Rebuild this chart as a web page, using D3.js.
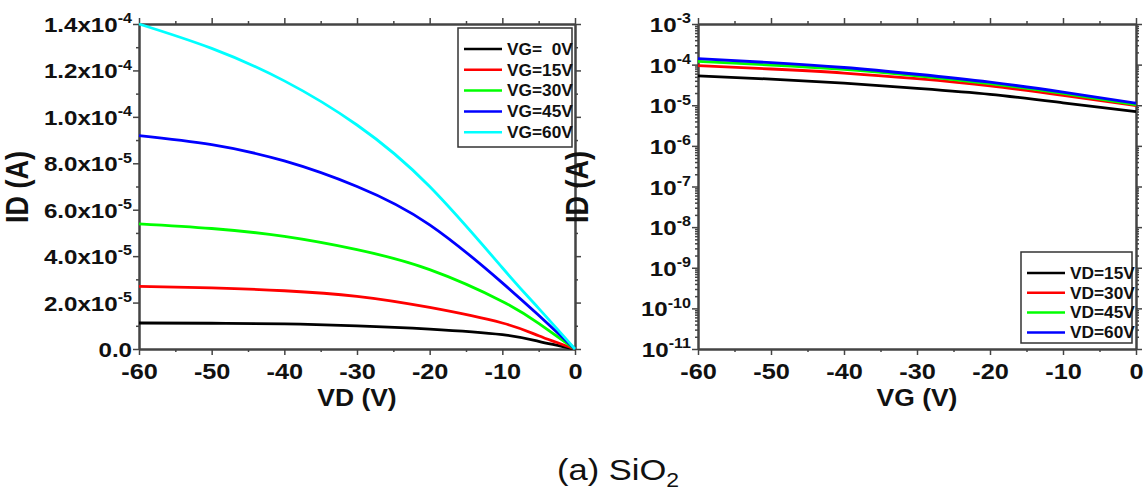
<!DOCTYPE html>
<html lang="en">
<head>
<meta charset="utf-8">
<title>SiO2 transistor curves</title>
<script type="text/javascript" src="https://d3js.org/d3.v7.min.js"></script>
<style>
body { margin: 0; background: #fff; }
text { font-family: "Liberation Sans", Arial, sans-serif; fill: #111; }
.lbl { font-weight: bold; }
.axis path, .axis line { stroke: #444; }
.axis path { stroke-width: 2; }
.axis line { stroke-width: 1.5; }
.curve { fill: none; stroke-width: 2.8; }
</style>
</head>
<body>
<div id="chart"></div>
<script type="text/javascript">

// output curves: ID vs VD for each VG
var vdValues = [-60, -50, -40, -30, -20, -10, -5, 0];
var idVG0  = [1.12e-5, 1.11e-5, 1.08e-5, 1.00e-5, 0.86e-5, 0.62e-5, 0.33e-5, 0];
var idVG15 = [2.70e-5, 2.63e-5, 2.51e-5, 2.27e-5, 1.79e-5, 1.12e-5, 0.57e-5, 0];
var idVG30 = [5.39e-5, 5.19e-5, 4.85e-5, 4.28e-5, 3.42e-5, 2.05e-5, 1.10e-5, 0];
var idVG45 = [9.19e-5, 8.80e-5, 8.10e-5, 7.00e-5, 5.35e-5, 2.85e-5, 1.45e-5, 0];
var idVG60 = [14.0e-5, 12.95e-5, 11.55e-5, 9.65e-5, 7.0e-5, 3.5e-5, 1.75e-5, 0];
var outNames = ["VG=  0V", "VG=15V", "VG=30V", "VG=45V", "VG=60V"];

// transfer curves: ID vs VG for each VD
var vgValues = [-60, -50, -40, -30, -20, -10, 0];
var idVD15 = [5.3e-5, 4.4e-5, 3.5e-5, 2.6e-5, 1.85e-5, 1.15e-5, 7.0e-6];
var idVD30 = [9.5e-5, 7.8e-5, 6.2e-5, 4.5e-5, 3.0e-5, 1.75e-5, 9.8e-6];
var idVD45 = [1.2e-4, 9.8e-5, 7.6e-5, 5.3e-5, 3.4e-5, 1.95e-5, 1.03e-5];
var idVD60 = [1.4e-4, 1.12e-4, 8.5e-5, 5.8e-5, 3.7e-5, 2.1e-5, 1.12e-5];
var trNames = ["VD=15V", "VD=30V", "VD=45V", "VD=60V"];

var colors = ["#000000", "#ff0000", "#00ff00", "#0000ff", "#00ffff"];

var xMajor = [-60, -50, -40, -30, -20, -10, 0];
var xMinor = [-55, -45, -35, -25, -15, -5];
var yLinMajor = [0, 2e-5, 4e-5, 6e-5, 8e-5, 1e-4, 1.2e-4, 1.4e-4];
var yLinMinor = [1e-5, 3e-5, 5e-5, 7e-5, 9e-5, 1.1e-4, 1.3e-4];
var yLogMajor = [1e-11, 1e-10, 1e-9, 1e-8, 1e-7, 1e-6, 1e-5, 1e-4, 1e-3];

var stretch = 1.15;   // picture is a bit wide, text looks stretched

var width = 1148, height = 493;
var plotTop = 24, plotBottom = 349;

var svg = d3.select("#chart").append("svg")
    .attr("width", width)
    .attr("height", height);

var xL = d3.scaleLinear().domain([-60, 0]).range([139, 575]);
var yL = d3.scaleLinear().domain([0, 1.4e-4]).range([plotBottom, plotTop]);
var xR = d3.scaleLinear().domain([-60, 0]).range([698, 1136]);
var yR = d3.scaleLog().domain([1e-11, 1e-3]).range([plotBottom, plotTop]);

var yLogMinor = [];
yLogMajor.slice(0, -1).forEach(function(d) {
    for (var k = 2; k < 10; k++) yLogMinor.push(d * k);
});

function sup(sel, base, exp, size, supSize) {
    sel.text(null);
    sel.append("tspan").text(base);
    sel.append("tspan").attr("dy", -size * 0.42).style("font-size", supSize + "px").text(exp);
}

function linLabel(d) {
    if (d === 0) return ["0.0", null];
    var e = Math.floor(Math.log10(d) + 1e-9);
    return [(d / Math.pow(10, e)).toFixed(1) + "x10", String(e)];
}

function frame(xs, ys, yMinor, yLabel) {
    var g = svg.append("g");
    var x0 = xs.range()[0], x1 = xs.range()[1];

    function ax(axis, tr) {
        return g.append("g").attr("class", "axis").attr("transform", tr).call(axis.tickSizeOuter(0));
    }

    // minor ticks
    ax(d3.axisBottom(xs).tickValues(xMinor).tickSize(3).tickFormat(""), "translate(0," + plotBottom + ")");
    ax(d3.axisTop(xs).tickValues(xMinor).tickSize(3).tickFormat(""), "translate(0," + plotTop + ")");
    ax(d3.axisLeft(ys).tickValues(yMinor).tickSize(3).tickFormat(""), "translate(" + x0 + ",0)");
    ax(d3.axisRight(ys).tickValues(yMinor).tickSize(3).tickFormat(""), "translate(" + x1 + ",0)");

    // major ticks
    ax(d3.axisTop(xs).tickValues(xMajor).tickSize(6).tickFormat(""), "translate(0," + plotTop + ")");
    ax(d3.axisRight(ys).tickValues(ys.major).tickSize(6).tickFormat(""), "translate(" + x1 + ",0)");

    var bx = ax(d3.axisBottom(xs).tickValues(xMajor).tickSize(6).tickFormat(function(d) { return String(d); }),
        "translate(0," + plotBottom + ")");
    bx.selectAll(".tick text")
        .attr("class", "lbl")
        .attr("y", 14).attr("dy", "0.71em")
        .style("font-size", "22px")
        .attr("transform", "scale(" + stretch + ",1)");

    var ly = ax(d3.axisLeft(ys).tickValues(ys.major).tickSize(6).tickFormat(""), "translate(" + x0 + ",0)");
    ly.selectAll(".tick text")
        .attr("class", "lbl")
        .attr("x", -7 / stretch).attr("dy", "0.36em")
        .style("font-size", "21px")
        .attr("transform", "scale(" + stretch + ",1)")
        .each(function(d) {
            var p = yLabel(d);
            if (p[1] === null) d3.select(this).text(p[0]);
            else sup(d3.select(this), p[0], p[1], 21, 14);
        });
    return g;
}

yL.major = yLinMajor;
yR.major = yLogMajor;

frame(xL, yL, yLinMinor, linLabel);
frame(xR, yR, yLogMinor, function(d) {
    return ["10", String(Math.round(Math.log10(d)))];
});

// titles
function title(x, y, txt, rot, size) {
    var t = svg.append("text").attr("class", "lbl")
        .attr("text-anchor", "middle")
        .style("font-size", size + "px")
        .attr("transform", "translate(" + x + "," + y + ")" + (rot ? " rotate(-90) scale(1," + stretch + ")" : " scale(" + stretch + ",1)"))
        .text(txt);
    return t;
}
title(357, 406, "VD (V)", false, 23);
title(917, 406, "VG (V)", false, 23);
title(28, 187, "ID (A)", true, 27);
title(588, 187, "ID (A)", true, 27);

// curves
var lineL = d3.line().x(function(d) { return xL(d[0]); }).y(function(d) { return yL(d[1]); }).curve(d3.curveNatural);
var lineR = d3.line().x(function(d) { return xR(d[0]); }).y(function(d) { return yR(d[1]); }).curve(d3.curveNatural);

var outSeries = [idVG0, idVG15, idVG30, idVG45, idVG60];
var trSeries = [idVD15, idVD30, idVD45, idVD60];

svg.append("g").selectAll("path")
    .data(outSeries)
    .enter().append("path")
        .attr("class", "curve")
        .attr("stroke", function(d, i) { return colors[i]; })
        .attr("d", function(s) { return lineL(vdValues.map(function(v, i) { return [v, s[i]]; })); });

svg.append("g").selectAll("path")
    .data(trSeries)
    .enter().append("path")
        .attr("class", "curve")
        .attr("stroke", function(d, i) { return colors[i]; })
        .attr("d", function(s) { return lineR(vgValues.map(function(v, i) { return [v, s[i]]; })); });

// legends
function legend(x, y, w, h, step, names) {
    var g = svg.append("g").attr("transform", "translate(" + x + "," + y + ")");
    g.append("rect").attr("width", w).attr("height", h)
        .attr("fill", "#fff").attr("stroke", "#333").attr("stroke-width", 1.5);
    var item = g.selectAll(".item").data(names).enter().append("g")
        .attr("transform", function(d, i) { return "translate(0," + (21 + i * step) + ")"; });
    item.append("line").attr("x1", 6).attr("x2", 44)
        .attr("stroke", function(d, i) { return colors[i]; }).attr("stroke-width", 2.5);
    item.append("text").attr("class", "lbl")
        .attr("x", 49 / 1.08).attr("dy", "0.36em")
        .attr("transform", "scale(1.08,1)")
        .style("font-size", "16px")
        .style("white-space", "pre")
        .text(function(d) { return d; });
}
legend(458, 28, 114, 119, 20.8, outNames);
legend(1021, 252, 111, 91, 19.8, trNames);

// caption
var cap = svg.append("text")
    .attr("transform", "translate(618,480) scale(" + stretch + ",1)")
    .attr("text-anchor", "middle")
    .style("font-size", "30px");
cap.append("tspan").text("(a) SiO");
cap.append("tspan").attr("dy", 7).style("font-size", "20px").text("2");

</script>
</body>
</html>
